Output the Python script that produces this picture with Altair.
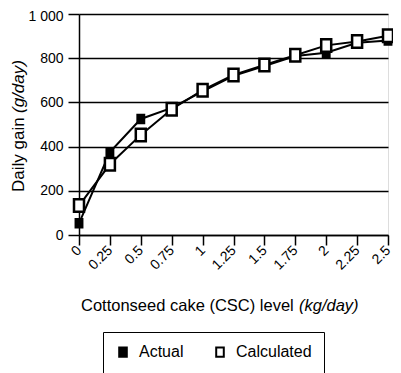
import altair as alt
import pandas as pd

levels = [0, 0.25, 0.5, 0.75, 1, 1.25, 1.5, 1.75, 2, 2.25, 2.5]
actual = [53, 375, 525, 575, 650, 720, 765, 810, 825, 870, 880]
calculated = [133, 320, 453, 569, 655, 724, 769, 813, 858, 876, 902]
series = ["Actual", "Calculated"]
y_ticks = [0, 200, 400, 600, 800, 1000]
x_title = ["Cottonseed cake (CSC) level", "(kg/day)"]
y_title = ["Daily gain", "(g/day)"]

rows = []
for s, vals in zip(series, [actual, calculated]):
    for x, v in zip(levels, vals):
        rows.append({"level": x, "gain": v, "series": s})
df = pd.DataFrame(rows)

FONT = "Liberation Sans"
RECT = "M-0.8,-1L0.8,-1L0.8,1L-0.8,1Z"

x = alt.X(
    "level:Q",
    scale=alt.Scale(domain=[0, 2.5], nice=False, zero=False),
    axis=alt.Axis(
        values=levels,
        labelExpr="'' + datum.value",
        labelOverlap=False,
        labelAngle=315,
        labelAlign="right",
        labelBaseline="middle",
        labelPadding=3,
        tickSize=10,
        tickWidth=1.5,
        tickColor="black",
        domainColor="black",
        domainWidth=1.5,
        grid=False,
        labelFont=FONT,
        labelFontSize=14,
        labelColor="black",
        title=None,
    ),
)
y = alt.Y(
    "gain:Q",
    scale=alt.Scale(domain=[0, 1000], nice=False),
    axis=alt.Axis(
        values=y_ticks,
        labelExpr="datum.value >= 1000 ? '1 000' : datum.label",
        labelOffset={"condition": {"test": "datum.value >= 1000", "value": 2}, "value": 0},
        tickSize=11,
        tickWidth=1.5,
        labelPadding=5,
        tickColor="black",
        domainColor="black",
        domainWidth=1.5,
        grid=True,
        gridColor="black",
        gridWidth=1.5,
        gridOpacity=1,
        labelFont=FONT,
        labelFontSize=14,
        labelColor="black",
        title=None,
    ),
)

lines = alt.Chart(df).mark_line(color="black", strokeWidth=2).encode(
    x=x, y=y, detail="series:N"
)

points = alt.Chart(df).mark_point(
    shape=RECT, stroke="black", strokeWidth=2.5, filled=False, opacity=1
).encode(
    x=x,
    y=y,
    fill=alt.Fill(
        "series:N",
        scale=alt.Scale(domain=series, range=["black", "white"]),
        legend=alt.Legend(
            title=None,
            orient="none",
            direction="horizontal",
            legendX=24,
            legendY=318,
            strokeColor="black",
            fillColor="white",
            padding=12,
            labelFont=FONT,
            labelFontSize=16,
            labelColor="black",
            symbolType=RECT,
            symbolStrokeColor="black",
            symbolStrokeWidth=2,
            symbolSize=90,
            columnPadding=28,
            labelOffset=8,
        ),
    ),
    size=alt.condition(
        "datum.series == 'Actual'", alt.value(64), alt.value(156)
    ),
)

xt_df = pd.DataFrame({"t": [x_title[0]]})
xt_it = pd.DataFrame({"t": [x_title[1]]})
yt_df = pd.DataFrame({"t": [y_title[0]]})
yt_it = pd.DataFrame({"t": [y_title[1]]})

xtitle1 = alt.Chart(xt_df).mark_text(
    font=FONT, fontSize=16.5, align="left", baseline="alphabetic", color="black"
).encode(text="t:N", x=alt.value(2), y=alt.value(297))
xtitle2 = alt.Chart(xt_it).mark_text(
    font=FONT, fontSize=16.5, fontStyle="italic", align="left",
    baseline="alphabetic", color="black"
).encode(text="t:N", x=alt.value(220), y=alt.value(297))
ytitle1 = alt.Chart(yt_df).mark_text(
    font=FONT, fontSize=17, align="left", baseline="alphabetic",
    angle=270, color="black"
).encode(text="t:N", x=alt.value(-55), y=alt.value(178))
ytitle2 = alt.Chart(yt_it).mark_text(
    font=FONT, fontSize=17, fontStyle="italic", align="left",
    baseline="alphabetic", angle=270, color="black"
).encode(text="t:N", x=alt.value(-55), y=alt.value(99))

chart = (
    alt.layer(lines, points, xtitle1, xtitle2, ytitle1, ytitle2)
    .properties(
        width=309,
        height=221,
        padding={"left": 71, "top": 6, "right": 5, "bottom": 138},
        autosize=alt.AutoSizeParams(type="none"),
    )
    .configure_view(stroke="black", strokeWidth=1.5)
    .configure(background="white")
)

chart.save("out.html", embed_options={"renderer": "svg", "actions": False})
